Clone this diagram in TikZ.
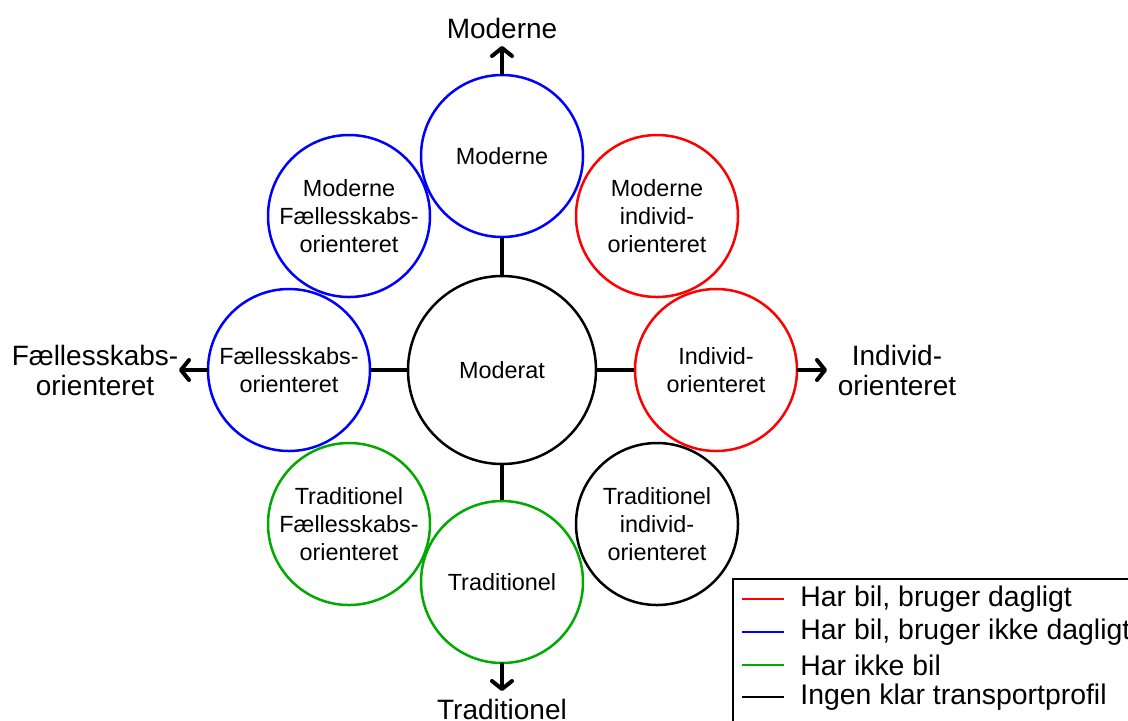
\documentclass[tikz,border=0pt]{standalone}
\usepackage{fontspec}
\setmainfont{Liberation Sans}
\usepackage{xcolor}
\usetikzlibrary{positioning, calc, arrows.meta}

\definecolor{profred}{RGB}{255,0,0}
\definecolor{profblue}{RGB}{0,0,255}
\definecolor{profgreen}{RGB}{0,170,0}

\tikzset{
    seg/.style={circle, draw, line width=1.25pt, inner sep=0pt, minimum size=81pt,
        align=center, font=\fontsize{11.7}{14}\selectfont},
    link/.style={line width=2pt},
    arr/.style={line width=2pt, -{Straight Barb[length=4pt, width=10pt, round]}, line cap=round},
    axislbl/.style={align=center, font=\fontsize{14}{15}\selectfont, inner sep=0pt},
    leglbl/.style={anchor=west, font=\fontsize{14.2}{16}\selectfont, inner sep=0pt}
}

\begin{document}
\begin{tikzpicture}[x=0.5pt, y=-0.5pt]

    \useasboundingbox (0,0) rectangle (1128,720);
    \clip (0,0) rectangle (1128,720);

    % --- Centre circle ---
    \node[seg, minimum size=94pt] (moderat) at (502,370) {Moderat};

    % --- Main axes ---
    \node[seg, draw=profblue] (moderne) at (502,156) {Moderne};
    \node[seg, draw=profgreen] (trad) at (502,582) {Traditionel};
    \node[seg, draw=profblue] (faelles) at (289,370) {Fællesskabs-\\orienteret};
    \node[seg, draw=profred] (individ) at (716,370) {Individ-\\orienteret};

    % --- Diagonal circles ---
    \node[seg, draw=profblue] (modfael) at (349,216) {Moderne\\Fællesskabs-\\orienteret};
    \node[seg, draw=profred] (modind) at (657,216) {Moderne\\individ-\\orienteret};
    \node[seg, draw=profgreen] (tradfael) at (349,524) {Traditionel\\Fællesskabs-\\orienteret};
    \node[seg] (tradind) at (657,524) {Traditionel\\individ-\\orienteret};

    % --- Links to the centre ---
    \draw[link] (moderat.north) -- (moderne.south);
    \draw[link] (moderat.south) -- (trad.north);
    \draw[link] (moderat.west) -- (faelles.east);
    \draw[link] (moderat.east) -- (individ.west);

    % --- Axis arrows and labels ---
    \coordinate (tipN) at (502,46);
    \coordinate (tipS) at (502,691);
    \coordinate (tipW) at (179,370);
    \coordinate (tipE) at (827,370);
    \draw[arr] (moderne.north) -- (tipN);
    \draw[arr] (trad.south) -- (tipS);
    \draw[arr] (faelles.west) -- (tipW);
    \draw[arr] (individ.east) -- (tipE);

    \node[axislbl] (lblN) at (502,28) {Moderne};
    \node[axislbl] (lblS) at (502,709) {Traditionel};
    \node[axislbl] (lblW) at (95,370) {Fællesskabs-\\orienteret};
    \node[axislbl] (lblE) at (897,370) {Individ-\\orienteret};

    % --- Legend ---
    \draw[line width=1pt] (733,579) rectangle (1140,730);
    \node[leglbl] (leg1) at (800,599) {Har bil, bruger dagligt};
    \node[leglbl] (leg2) at (800,632) {Har bil, bruger ikke dagligt};
    \node[leglbl] (leg3) at (800,665) {Har ikke bil};
    \node[leglbl] (leg4) at (800,697) {Ingen klar transportprofil};
    \draw[profred, line width=1.25pt] ([xshift=-8pt]leg1.west) -- ++(-21pt,0);
    \draw[profblue, line width=1.25pt] ([xshift=-8pt]leg2.west) -- ++(-21pt,0);
    \draw[profgreen, line width=1.25pt] ([xshift=-8pt]leg3.west) -- ++(-21pt,0);
    \draw[line width=1.25pt] ([xshift=-8pt]leg4.west) -- ++(-21pt,0);

\end{tikzpicture}
\end{document}
